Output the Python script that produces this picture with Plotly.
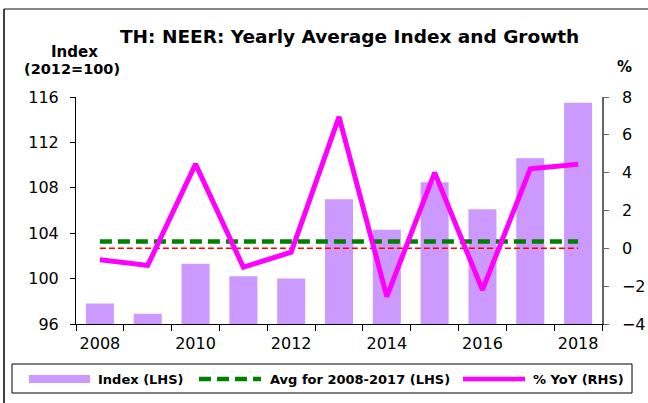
import plotly.graph_objects as go

years = ["2008", "2009", "2010", "2011", "2012", "2013", "2014", "2015", "2016", "2017", "2018"]
index_lhs = [97.8, 96.9, 101.3, 100.2, 100.0, 107.0, 104.3, 108.5, 106.1, 110.6, 115.5]
yoy_rhs = [-0.6, -0.9, 4.45, -1.0, -0.2, 6.95, -2.55, 4.0, -2.2, 4.2, 4.45]
avg_value = round(sum(index_lhs[:10]) / 10, 2)
avg_lhs = [avg_value] * len(years)
zero_rhs = [0] * len(years)
x_tick_text = [y if int(y) % 2 == 0 else "" for y in years]
left_ticks = [96, 100, 104, 108, 112, 116]
right_ticks = [-4, -2, 0, 2, 4, 6, 8]

W, H = 648, 403
L, R, T, B = 76, 602, 97, 324


def px(x):
    return (x - L) / (R - L)


def py(y):
    return (B - y) / (B - T)


FONT = "DejaVu Sans"
fig = go.Figure()
fig.add_trace(go.Bar(x=years, y=index_lhs, marker=dict(color="#CC99FF", line=dict(width=0)),
                     name="Index (LHS)", yaxis="y"))
fig.add_trace(go.Scatter(x=years, y=avg_lhs, mode="lines", name="Avg for 2008-2017 (LHS)",
                         line=dict(color="#008000", width=4.5, dash="12px,6px"), yaxis="y"))
fig.add_trace(go.Scatter(x=years, y=zero_rhs, mode="lines", showlegend=False,
                         line=dict(color="#FF0000", width=1.5, dash="6px,3px"), yaxis="y2"))
fig.add_trace(go.Scatter(x=years, y=yoy_rhs, mode="lines", name="% YoY (RHS)",
                         line=dict(color="#FF00FF", width=5), yaxis="y2"))

fig.update_layout(
    width=W, height=H,
    margin=dict(l=L, r=W - R, t=T, b=H - B, pad=0, autoexpand=False),
    paper_bgcolor="white", plot_bgcolor="white",
    showlegend=False,
    bargap=0.414,
    font=dict(family=FONT, size=16, color="black"),
    xaxis=dict(type="category", tickson="boundaries", ticks="outside", ticklen=6,
               tickcolor="black", showline=True, linecolor="black", linewidth=1,
               tickvals=years, ticktext=x_tick_text, showgrid=False, tickangle=0,
               ticklabelstandoff=5, automargin=False, tickfont=dict(size=16)),
    yaxis=dict(range=[96, 116], tickvals=left_ticks, ticks="outside", ticklen=5,
               tickcolor="black", showline=True, linecolor="black", linewidth=1,
               showgrid=False, zeroline=False, ticklabelstandoff=8, automargin=False,
               tickfont=dict(size=16)),
    yaxis2=dict(range=[-4, 8], tickvals=right_ticks, ticks="outside", ticklen=5,
                tickcolor="#666666", showline=True, linecolor="#666666", linewidth=1.5,
                overlaying="y", side="right", showgrid=False, zeroline=False,
                ticklabelstandoff=10, automargin=False, tickfont=dict(size=16)),
)

ann = []


def text(x, y, s, size, bold=False, xanchor="center"):
    ann.append(dict(x=px(x), y=py(y), xref="paper", yref="paper", text=f"<b>{s}</b>" if bold else s,
                    showarrow=False, xanchor=xanchor, yanchor="middle",
                    font=dict(family=FONT, size=size, color="black")))


text(349, 36.5, "TH: NEER: Yearly Average Index and Growth", 18.5, bold=True)
text(74, 52, "Index", 15, bold=True)
text(72, 69, "(2012=100)", 14.5, bold=True)
text(624.5, 67, "%", 15, bold=True)
# legend labels
text(96, 379, "Index (LHS)", 13, bold=True, xanchor="left")
text(268, 379, "Avg for 2008-2017 (LHS)", 13, bold=True, xanchor="left")
text(531, 379, "% YoY (RHS)", 13, bold=True, xanchor="left")
fig.update_layout(annotations=ann)

shapes = [
    # outer frame
    dict(type="line", xref="paper", yref="paper", x0=px(4), x1=px(648), y0=py(9), y1=py(9),
         line=dict(color="#888888", width=2)),
    dict(type="line", xref="paper", yref="paper", x0=px(4), x1=px(4), y0=py(9), y1=py(403),
         line=dict(color="black", width=1.5)),
    # legend box
    dict(type="rect", xref="paper", yref="paper", x0=px(12), x1=px(632), y0=py(364), y1=py(393),
         line=dict(color="black", width=1), fillcolor="rgba(0,0,0,0)"),
    dict(type="rect", xref="paper", yref="paper", x0=px(29), x1=px(90), y0=py(375), y1=py(383),
         line=dict(width=0), fillcolor="#CC99FF"),
    dict(type="line", xref="paper", yref="paper", x0=px(199), x1=px(261), y0=py(379), y1=py(379),
         line=dict(color="#008000", width=4.5, dash="12px,6px")),
    dict(type="line", xref="paper", yref="paper", x0=px(463), x1=px(525), y0=py(379), y1=py(379),
         line=dict(color="#FF00FF", width=4.5)),
]
fig.update_layout(shapes=shapes)

fig.write_html("out.html", config={"displayModeBar": False},
               post_script="document.body.style.margin='0';document.body.style.padding='0';")
